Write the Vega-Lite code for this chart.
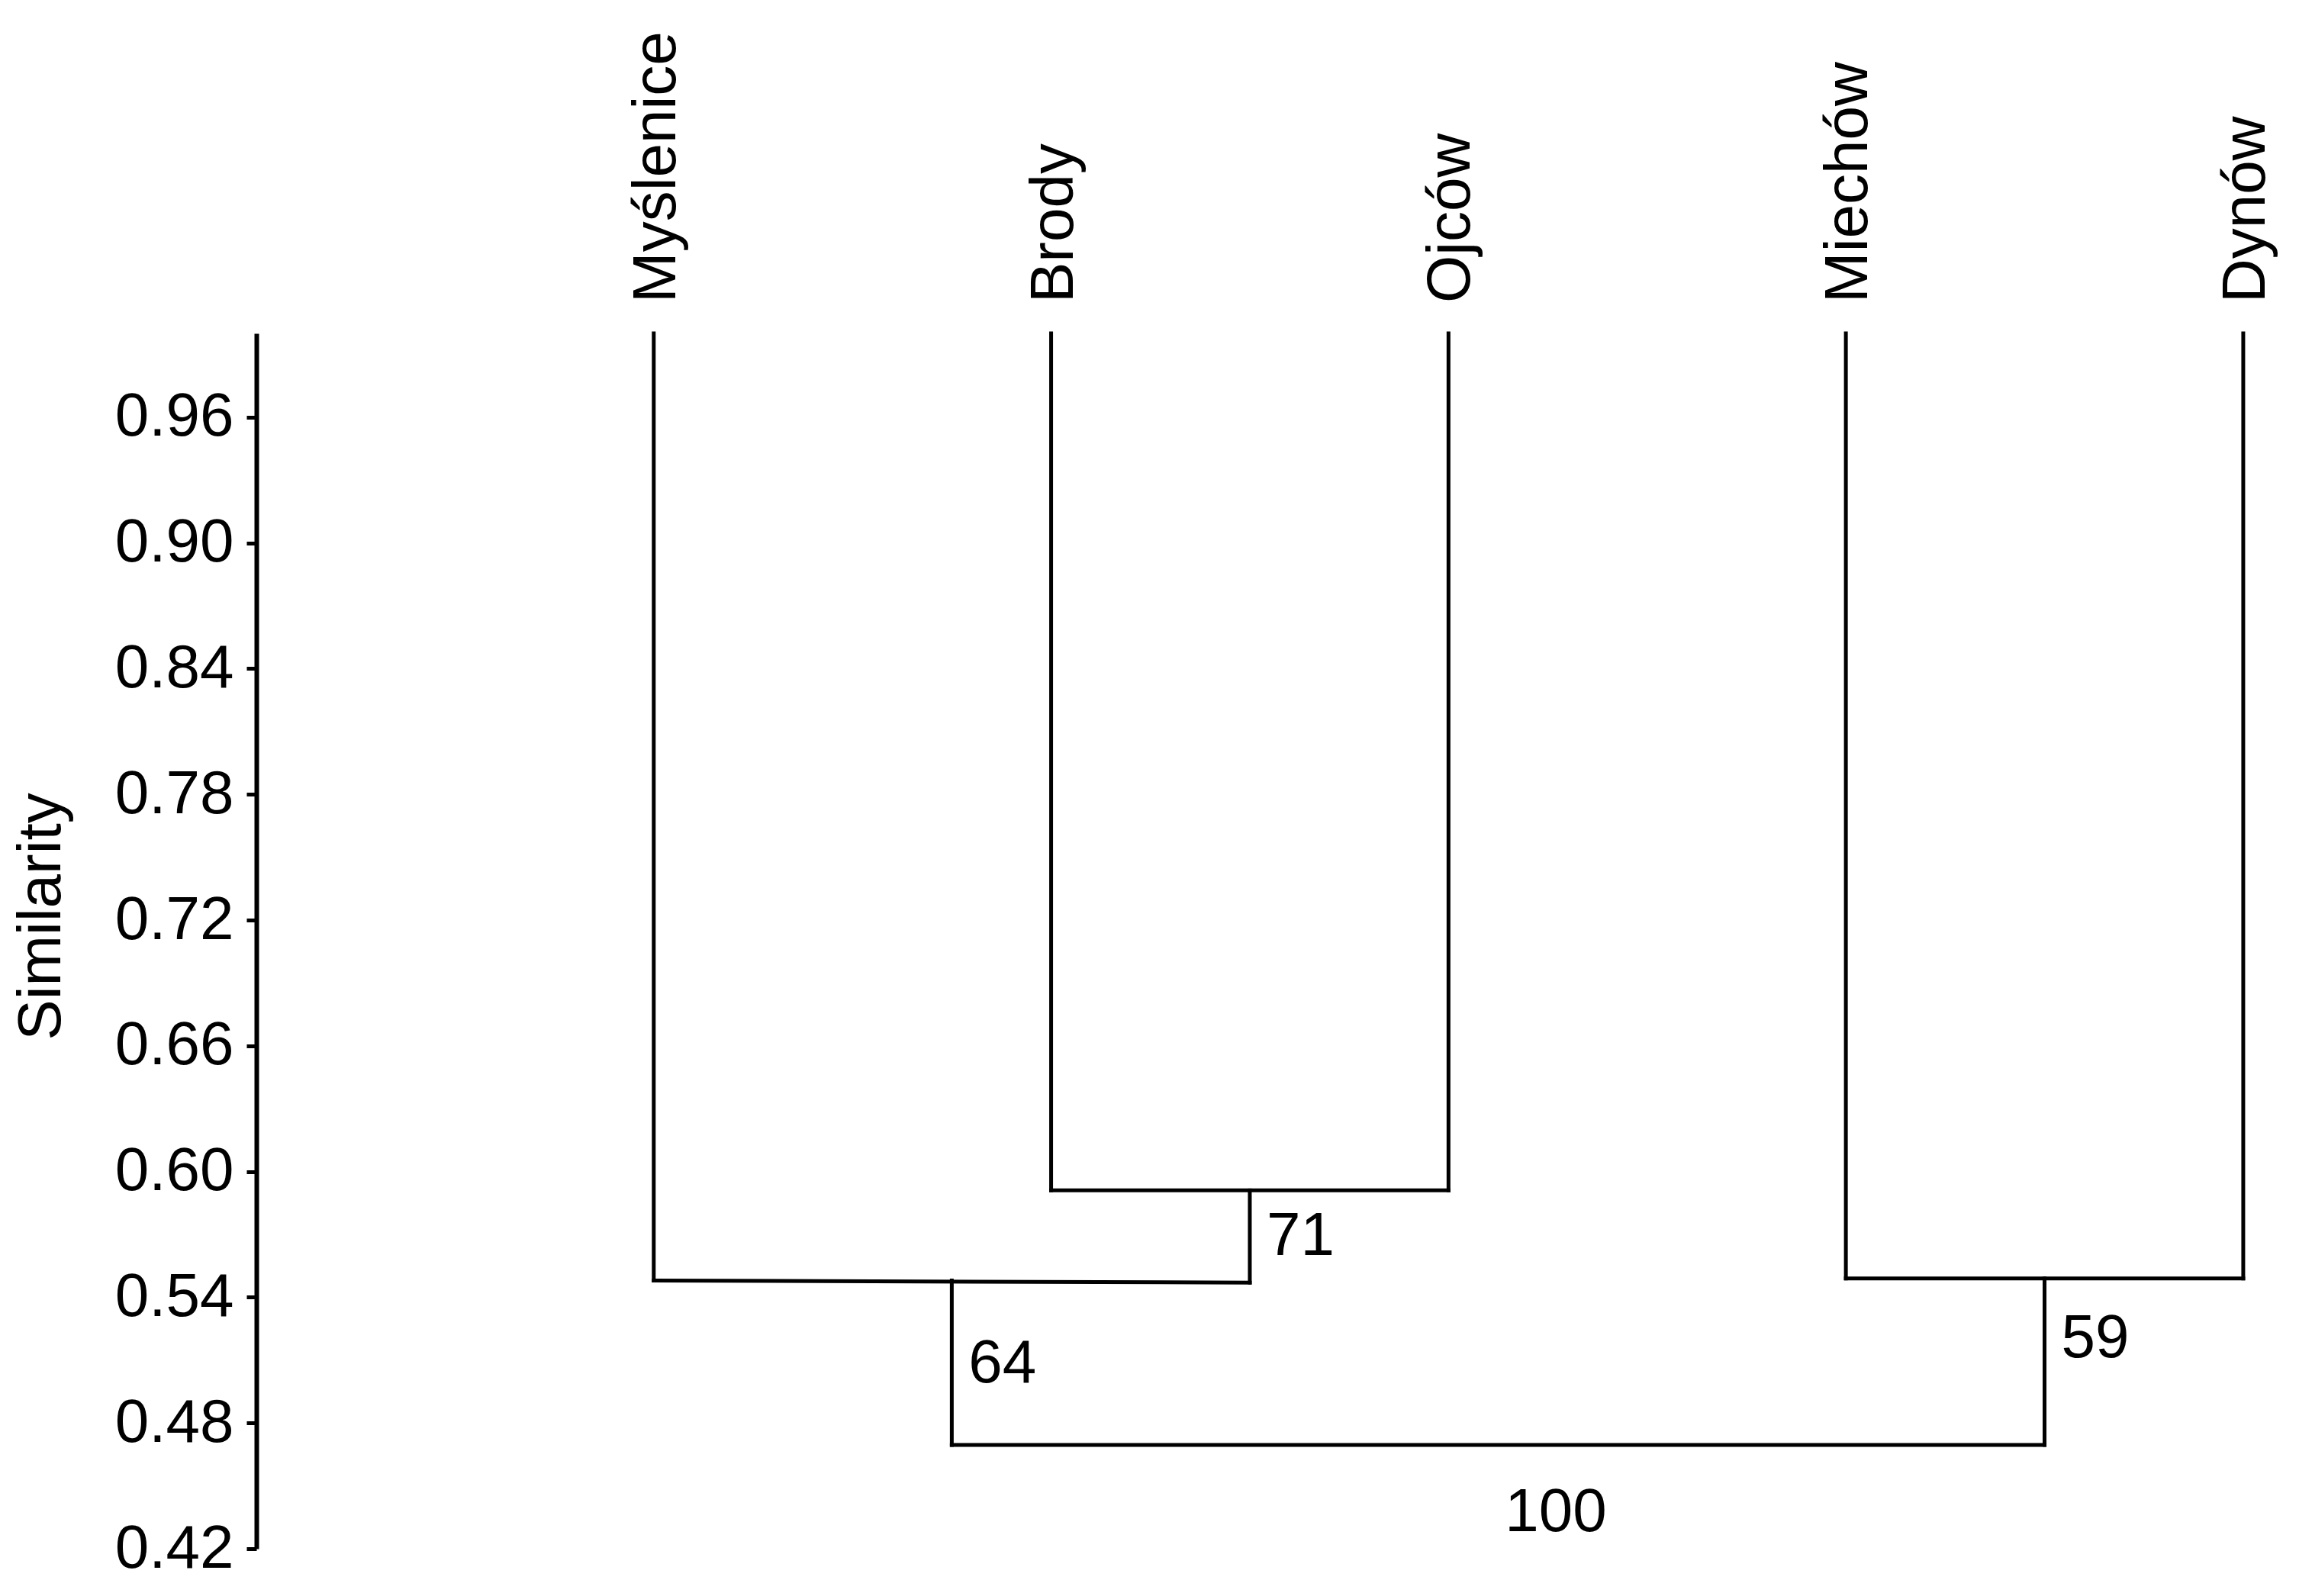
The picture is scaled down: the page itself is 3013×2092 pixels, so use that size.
{
  "$schema": "https://vega.github.io/schema/vega-lite/v6.json",
  "autosize": {"type": "none"},
  "padding": {"left": 336, "top": 437, "right": 0, "bottom": 62},
  "width": 2656,
  "height": 1593,
  "background": "white",
  "config": {
    "view": {"stroke": null},
    "font": "Liberation Sans",
    "axis": {"grid": false}
  },
  "datasets": {
    "segments": [
      {"x": 1, "x2": 1, "y": 1.0, "y2": 0.548},
      {"x": 2, "x2": 2, "y": 1.0, "y2": 0.591},
      {"x": 3, "x2": 3, "y": 1.0, "y2": 0.591},
      {"x": 4, "x2": 4, "y": 1.0, "y2": 0.549},
      {"x": 5, "x2": 5, "y": 1.0, "y2": 0.549},
      {"x": 2, "x2": 3, "y": 0.591, "y2": 0.591},
      {"x": 2.5, "x2": 2.5, "y": 0.591, "y2": 0.547},
      {"x": 1, "x2": 2.5, "y": 0.548, "y2": 0.547},
      {"x": 1.75, "x2": 1.75, "y": 0.548, "y2": 0.4695},
      {"x": 4, "x2": 5, "y": 0.549, "y2": 0.549},
      {"x": 4.5, "x2": 4.5, "y": 0.549, "y2": 0.4695},
      {"x": 1.75, "x2": 4.5, "y": 0.4695, "y2": 0.4695}
    ],
    "leaves": [
      {"name": "Myślenice", "x": 1, "y": 1.0},
      {"name": "Brody", "x": 2, "y": 1.0},
      {"name": "Ojców", "x": 3, "y": 1.0},
      {"name": "Miechów", "x": 4, "y": 1.0},
      {"name": "Dynów", "x": 5, "y": 1.0}
    ],
    "supports": [
      {"label": "71", "x": 2.5, "y": 0.569},
      {"label": "64", "x": 1.75, "y": 0.508},
      {"label": "59", "x": 4.5, "y": 0.52}
    ],
    "rootLabel": [
      {"label": "100", "x": 3.27, "y": 0.437}
    ]
  },
  "layer": [
    {
      "data": {"name": "segments"},
      "mark": {"type": "rule", "color": "black", "strokeWidth": 5, "strokeCap": "square"},
      "encoding": {
        "x": {"field": "x", "type": "quantitative", "scale": {"domain": [0, 5.1], "nice": false, "zero": false}, "axis": null},
        "x2": {"field": "x2"},
        "y": {
          "field": "y",
          "type": "quantitative",
          "scale": {"domain": [0.42, 1.0], "nice": false, "zero": false},
          "axis": {
            "title": "Similarity",
            "values": [0.42, 0.48, 0.54, 0.6, 0.66, 0.72, 0.78, 0.84, 0.9, 0.96],
            "format": ".2f",
            "domainColor": "black",
            "domainWidth": 6,
            "tickColor": "black",
            "tickWidth": 5,
            "tickSize": 13,
            "labelFontSize": 80,
            "labelColor": "black",
            "labelPadding": 17,
            "labelFont": "Liberation Sans",
            "labelFlush": false,
            "labelOverlap": false,
            "titleFontSize": 80,
            "titleFont": "Liberation Sans",
            "titleFontWeight": "normal",
            "titleColor": "black",
            "titleAngle": 270,
            "titleAlign": "center",
            "titleBaseline": "alphabetic",
            "titleX": -258,
            "titleY": 764
          }
        },
        "y2": {"field": "y2"}
      }
    },
    {
      "data": {"name": "leaves"},
      "mark": {"type": "text", "angle": 270, "align": "left", "baseline": "alphabetic", "dx": 40, "dy": 28, "fontSize": 80, "color": "black", "font": "Liberation Sans"},
      "encoding": {
        "x": {"field": "x", "type": "quantitative"},
        "y": {"field": "y", "type": "quantitative"},
        "text": {"field": "name"}
      }
    },
    {
      "data": {"name": "supports"},
      "mark": {"type": "text", "align": "left", "baseline": "middle", "dx": 22, "fontSize": 80, "color": "black", "font": "Liberation Sans"},
      "encoding": {
        "x": {"field": "x", "type": "quantitative"},
        "y": {"field": "y", "type": "quantitative"},
        "text": {"field": "label"}
      }
    },
    {
      "data": {"name": "rootLabel"},
      "mark": {"type": "text", "align": "center", "baseline": "middle", "fontSize": 80, "color": "black", "font": "Liberation Sans"},
      "encoding": {
        "x": {"field": "x", "type": "quantitative"},
        "y": {"field": "y", "type": "quantitative"},
        "text": {"field": "label"}
      }
    }
  ]
}
